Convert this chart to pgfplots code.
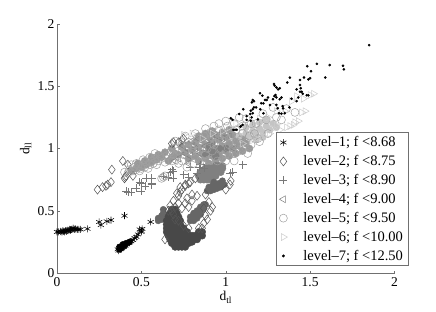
\documentclass[border=0pt]{standalone}
\usepackage{fontspec}
\setmainfont{Liberation Serif}
\usepackage{pgfplots}
\pgfplotsset{compat=1.18}
\definecolor{myax}{HTML}{707070}
\definecolor{myb}{HTML}{484848}
\definecolor{mym}{HTML}{666666}
\definecolor{myg}{HTML}{808080}
\definecolor{myl}{HTML}{989898}
\definecolor{myv}{HTML}{C4C4C4}
\definecolor{myB}{HTML}{555555}
\definecolor{myC}{HTML}{787878}
\definecolor{myD}{HTML}{808080}
\definecolor{myE}{HTML}{A0A0A0}
\definecolor{myF}{HTML}{CCCCCC}
\newcommand{\lgpad}[1]{\hspace*{14pt}#1}
\begin{document}
\begin{tikzpicture}
\useasboundingbox (-57pt,-38pt) rectangle (379pt,273pt);
\begin{axis}[
  scale only axis, width=337.5pt, height=249pt,
  xmin=0,xmax=2,ymin=0,ymax=2,
  axis lines=left, axis line style={-,myax,line width=0.7pt},
  every tick/.style={myax,line width=0.5pt}, tick align=inside,
  major tick length=2.5pt,
  xtick={0,0.5,1,1.5,2}, ytick={0,0.5,1,1.5,2},
  xticklabels={0,0.5,1,1.5,2}, yticklabels={0,0.5,1,1.5,2},
  tick label style={font=\fontsize{13.5}{14}\selectfont,black},
  xticklabel style={yshift=-1pt}, yticklabel style={xshift=1pt},
  xlabel={d\textsubscript{tl}}, ylabel={d\textsubscript{ll}},
  label style={font=\fontsize{13.5}{14}\selectfont},
  xlabel style={at={(axis description cs:0.5,0)},anchor=north,yshift=-15pt},
  ylabel style={at={(axis description cs:0,0.5)},anchor=south,xshift=0pt,yshift=22pt},
  clip=false,
  legend cell align=left,
  legend image post style={xshift=8pt},
  legend style={at={(axis cs:1.298,1.13)},anchor=north west,draw=myax,line width=0.7pt,
    font=\fontsize{14.5}{14.5}\selectfont, row sep=3.2pt, inner xsep=3pt, inner ysep=2pt, fill=white},
]
% dense areas
\addplot[only marks,forget plot,mark=*,mark size=3.6pt,myl,mark options={draw=none,fill=myl}] coordinates {
(.44,.82)(.47,.84)(.50,.85)(.53,.87)(.56,.89)(.59,.91)(.62,.93)(.48,.88)(.52,.90)(.56,.93)(.60,.95)(.64,.97)(.68,.93)(.68,1.0)(.66,.90)(.70,.96)
(.72,.95)(.76,.97)(.80,.99)(.84,1.01)(.88,1.03)(.92,1.05)(.96,1.07)(1.0,1.09)(1.04,1.11)
(.78,.92)(.82,.94)(.86,.96)(.90,.98)(.94,1.0)(.98,1.02)(1.02,1.04)(1.06,1.06)(1.10,1.08)
(.84,.90)(.88,.92)(.92,.94)(.96,.96)(1.0,.98)(1.04,1.0)(1.08,1.02)(1.12,1.04)
(.90,.88)(.94,.90)(.98,.92)(1.02,.94)(1.06,.96)(1.10,.98)(1.14,1.0)
(.74,1.01)(.78,1.03)(.82,1.05)(.86,1.07)(.90,1.09)(.94,1.11)(.98,1.13)(1.02,1.15)
(.84,1.10)(.88,1.12)(.92,1.14)};
\addplot[only marks,forget plot,mark=*,mark size=3.6pt,myg,mark options={draw=none,fill=myg}] coordinates {
(.85,.75)(.87,.75)(.89,.75)(.91,.75)(.84,.78)(.86,.78)(.88,.78)(.90,.78)(.92,.78)(.94,.78)(.85,.81)(.87,.81)(.89,.81)(.91,.81)(.93,.81)(.95,.81)(.97,.81)(.88,.84)(.90,.84)(.92,.84)(.94,.84)(.96,.84)(.98,.84)(.94,.86)(.96,.86)(.98,.86)
(.92,.98)(.96,1.0)(.88,.96)(.94,.94)(1.0,1.0)(.90,1.02)};
\addplot[only marks,forget plot,mark=*,mark size=3.4pt,myv,mark options={draw=none,fill=myv}] coordinates {
(1.08,1.10)(1.12,1.12)(1.16,1.14)(1.20,1.16)(1.24,1.18)(1.28,1.20)(1.14,1.09)(1.18,1.11)(1.22,1.13)(1.26,1.15)(1.30,1.17)(1.12,1.17)(1.16,1.19)(1.20,1.21)(1.24,1.23)(1.18,1.07)(1.22,1.09)};
\addplot[only marks,forget plot,mark=*,mark size=3.2pt,mym,mark options={draw=none,fill=mym}] coordinates {
(.89,.66)(.91,.66)(.93,.67)(.95,.68)(.97,.69)(.99,.71)(.90,.69)(.92,.70)(.94,.71)(.96,.72)(.98,.74)(.91,.68)(.93,.73)
(.79,.42)(.81,.42)(.83,.44)(.79,.45)(.81,.45)(.83,.47)(.85,.47)(.81,.48)(.83,.50)(.85,.50)(.87,.52)(.85,.53)(.87,.55)(.88,.55)
(.60,.42)(.61,.44)(.62,.46)(.63,.48)(.63,.51)(.60,.44)(.62,.43)(.64,.47)};
\addplot[only marks,forget plot,mark=*,mark size=3.6pt,myb,mark options={draw=none,fill=myb}] coordinates {
(.70,.21)(.72,.21)(.74,.21)(.76,.21)
(.68,.24)(.70,.24)(.72,.24)(.74,.24)(.76,.24)(.78,.24)(.80,.25)
(.67,.27)(.69,.27)(.71,.27)(.73,.27)(.75,.27)(.77,.27)(.79,.27)(.81,.27)(.83,.27)
(.66,.30)(.68,.30)(.70,.30)(.72,.30)(.74,.30)(.76,.30)(.78,.30)(.80,.30)(.82,.30)(.84,.30)(.86,.30)
(.65,.33)(.67,.33)(.69,.33)(.71,.33)(.73,.33)(.75,.33)(.77,.33)(.84,.33)(.86,.33)
(.65,.36)(.67,.36)(.69,.36)(.71,.36)(.73,.36)(.75,.36)
(.65,.39)(.67,.39)(.69,.39)(.71,.39)(.73,.39)
(.65,.42)(.67,.42)(.69,.42)(.71,.42)(.73,.42)
(.66,.45)(.68,.45)(.70,.45)(.72,.45)
(.67,.48)(.69,.48)(.71,.48)
(.68,.51)(.70,.51)};
\addplot[only marks,forget plot,mark=*,mark size=3pt,black,mark options={draw=none,fill=black}] coordinates {
(.37,.19)(.38,.20)(.40,.22)(.37,.21)(.39,.23)(.41,.24)(.43,.25)};
% level 1
\addplot[only marks,mark=asterisk,mark size=3.5pt,black,mark options={line width=0.55pt}] coordinates {
(0,.33)(.01,.33)(.02,.335)(.025,.33)(.03,.33)(.035,.34)(.04,.335)(.045,.33)(.05,.34)(.055,.335)(.06,.34)(.065,.345)(.07,.34)(.075,.35)(.08,.345)(.085,.35)(.09,.35)(.095,.36)(.10,.355)(.105,.35)(.11,.355)(.12,.35)(.13,.35)(.14,.35)(.18,.355)
(.25,.41)(.26,.385)(.295,.415)(.32,.425)(.40,.46)(.555,.41)(.49,.35)(.50,.34)(.505,.355)(.50,.33)
(.36,.19)(.365,.18)(.37,.20)(.375,.19)(.38,.195)(.38,.21)(.385,.20)(.39,.215)(.395,.21)(.40,.225)(.405,.22)(.41,.235)(.415,.23)(.42,.24)(.43,.245)(.44,.255)(.45,.265)(.46,.28)(.47,.29)(.48,.31)};
\addlegendentry{\lgpad{level--1; f <8.68}}
% level 2
\addplot[only marks,mark=diamond,mark size=4.5pt,myB,mark options={line width=0.5pt,draw=myB,fill=none}] coordinates {
(.24,.67)(.27,.69)(.29,.70)(.30,.71)(.32,.73)(.325,.83)(.39,.90)(.42,.87)(.40,.76)(.405,.77)(.41,.78)(.45,.78)(.68,1.04)(.69,1.05)(.74,1.07)(.75,1.08)(.72,1.05)
(.71,.64)(.72,.62)(.73,.65)(.74,.67)(.76,.70)(.78,.72)(.79,.73)(.73,.69)(.76,.71)(.82,.76)(.80,.63)(.77,.60)(.72,.56)(.70,.53)(.68,.50)(.69,.58)(.74,.52)(.76,.56)(.78,.53)(.80,.58)(.83,.62)(.88,.63)(.90,.57)(.92,.53)(.91,.50)(.87,.52)(.88,.46)(.89,.43)(.87,.40)(.86,.36)(.84,.36)(.78,.36)(.75,.38)(.72,.42)(.70,.43)(.69,.47)(.66,.50)(.67,.54)(.64,.27)(1.025,.71)(1.03,.74)(1.0,.67)};
\addlegendentry{\lgpad{level--2; f <8.75}}
% level 3
\addplot[only marks,mark=+,mark size=4pt,myC,mark options={line width=0.5pt}] coordinates {
(.42,.65)(.44,.65)(.41,.655)(.49,.73)(.50,.72)(.52,.70)(.56,.71)(.53,.76)(.56,.76)(.47,.68)(.50,.66)(.68,.83)(.69,.76)(.66,.77)(.67,.81)(.69,.82)(.79,.85)(.85,.87)(.84,.85)(.87,.84)(.56,.72)(1.025,.80)(1.04,.81)(1.10,.87)(.63,.78)(.75,.79)(.83,.80)(.78,.77)};
\addlegendentry{\lgpad{level--3; f <8.90}}
% level 4
\addplot[only marks,mark=triangle,mark size=4pt,myD,mark options={rotate=90,line width=0.5pt,draw=myD,fill=none}] coordinates {
(.72,.92)(.76,.96)(.79,.94)(.82,1.0)(.85,.96)(.88,1.02)(.92,1.06)(.90,.97)(.95,1.0)(.75,1.02)(.80,1.06)(.84,1.08)(.98,1.08)(1.02,1.1)(1.05,1.0)(.95,1.1)(.70,.90)(.78,.88)};
\addlegendentry{\lgpad{level--4; f <9.00}}
% level 5
\addplot[only marks,mark=o,mark size=4pt,myE,mark options={line width=0.5pt,draw=myE,fill=none}] coordinates {
(.40,.81)(.42,.80)(.43,.83)(.45,.82)(.46,.85)(.47,.83)(.48,.86)(.50,.84)(.51,.87)(.52,.85)(.53,.89)(.55,.87)(.56,.90)(.57,.88)(.58,.92)(.60,.90)(.61,.94)(.62,.92)(.55,.93)(.51,.91)(.47,.88)(.44,.87)(.49,.82)(.54,.84)(.59,.87)(.64,.89)(.58,.96)
(.63,.77)(.64,.78)(.62,.76)
(.65,.94)(.67,.97)(.69,.95)(.70,1.0)(.72,.98)(.74,1.02)(.75,.95)(.77,1.0)(.78,1.05)(.80,.97)(.81,1.03)(.83,1.08)(.84,.98)(.86,1.04)(.87,1.1)(.88,.95)(.89,1.0)(.90,1.07)(.91,1.13)(.92,.98)(.93,1.03)(.94,1.1)(.96,1.15)(.97,1.0)(.98,1.06)(.99,1.12)(1.0,.95)(1.01,1.18)(1.02,1.03)(1.03,1.1)(1.05,.96)(1.06,1.15)(1.07,1.05)(1.08,.98)(1.1,1.0)(1.1,1.12)(1.12,1.05)(1.13,.96)(1.15,1.03)(.68,.90)(.72,.88)(.78,.92)(.82,.92)(.85,.90)(.90,.91)(.95,.90)(1.0,.90)(1.05,.90)
(.74,.90)(.77,.85)(.81,.88)(.86,1.0)(.92,1.09)(1.04,1.0)(1.09,1.07)(.96,1.2)(1.0,1.22)(1.05,1.2)(1.1,1.18)(1.14,1.1)
(.70,1.06)(.76,1.1)(.82,1.12)(.88,1.16)(.93,1.18)(1.08,1.25)(1.12,1.24)(1.15,1.2)(1.17,1.12)(1.19,1.08)
(1.2,1.055)(1.25,1.12)(1.28,1.33)(1.33,1.23)(1.41,1.29)(1.3,1.25)(1.36,1.32)(1.22,1.28)(1.18,1.2)(1.24,1.23)};
\addlegendentry{\lgpad{level--5; f <9.50}}
% level 6
\addplot[only marks,mark=triangle,mark size=4pt,myF,mark options={rotate=-90,line width=0.5pt,draw=myF,fill=none}] coordinates {
(.98,1.14)(1.02,1.17)(1.06,1.2)(.75,1.11)(.8,1.12)(.86,1.08)(.92,1.12)(1.1,1.04)(1.15,1.06)(1.18,1.08)(1.22,1.1)(1.26,1.12)(1.28,1.16)(1.3,1.19)(1.32,1.15)(1.16,1.2)(1.2,1.24)(1.25,1.25)(1.3,1.3)(1.35,1.3)
(1.5,1.43)(1.52,1.44)(1.45,1.29)(1.47,1.3)(1.41,1.21)(1.43,1.22)(1.36,1.17)(1.38,1.18)(1.4,1.19)(1.42,1.42)(1.46,1.4)(1.39,1.38)};
\addlegendentry{\lgpad{level--6; f <10.00}}
% level 7
\addplot[only marks,mark=*,mark size=1.1pt,black,mark options={draw=black,fill=black}] coordinates {
(1.85,1.83)(1.483,1.66)(1.54,1.68)(1.616,1.67)(1.695,1.665)(1.70,1.636)(1.505,1.62)(1.59,1.57)(1.38,1.57)(1.365,1.53)(1.44,1.55)(1.464,1.57)(1.50,1.565)(1.49,1.555)
(1.286,1.518)(1.29,1.505)(1.30,1.49)(1.32,1.484)(1.31,1.475)(1.44,1.51)(1.444,1.484)(1.42,1.475)(1.45,1.456)(1.44,1.456)(1.456,1.44)(1.48,1.427)(1.49,1.427)(1.43,1.41)(1.42,1.38)(1.39,1.40)
(1.203,1.443)(1.217,1.424)(1.16,1.39)(1.167,1.38)(1.155,1.37)(1.25,1.41)(1.243,1.39)(1.233,1.39)(1.21,1.363)(1.223,1.363)(1.288,1.42)(1.30,1.41)(1.295,1.43)(1.32,1.395)(1.28,1.395)(1.33,1.41)(1.262,1.35)(1.30,1.35)(1.337,1.34)(1.308,1.323)(1.377,1.33)(1.34,1.323)(1.316,1.283)(1.33,1.28)(1.35,1.283)
(1.104,1.315)(1.08,1.277)(1.167,1.33)(1.18,1.33)(1.16,1.315)(1.148,1.303)(1.145,1.277)(1.16,1.283)(1.205,1.315)(1.223,1.283)(1.19,1.234)(1.124,1.26)(1.154,1.25)(1.148,1.223)(1.124,1.23)(1.10,1.19)(1.087,1.175)(1.065,1.15)(1.045,1.15)(1.055,1.15)(1.03,1.243)(1.04,1.23)(1.09,1.18)};
\addlegendentry{\lgpad{level--7; f <12.50}}
\end{axis}
\end{tikzpicture}
\end{document}
